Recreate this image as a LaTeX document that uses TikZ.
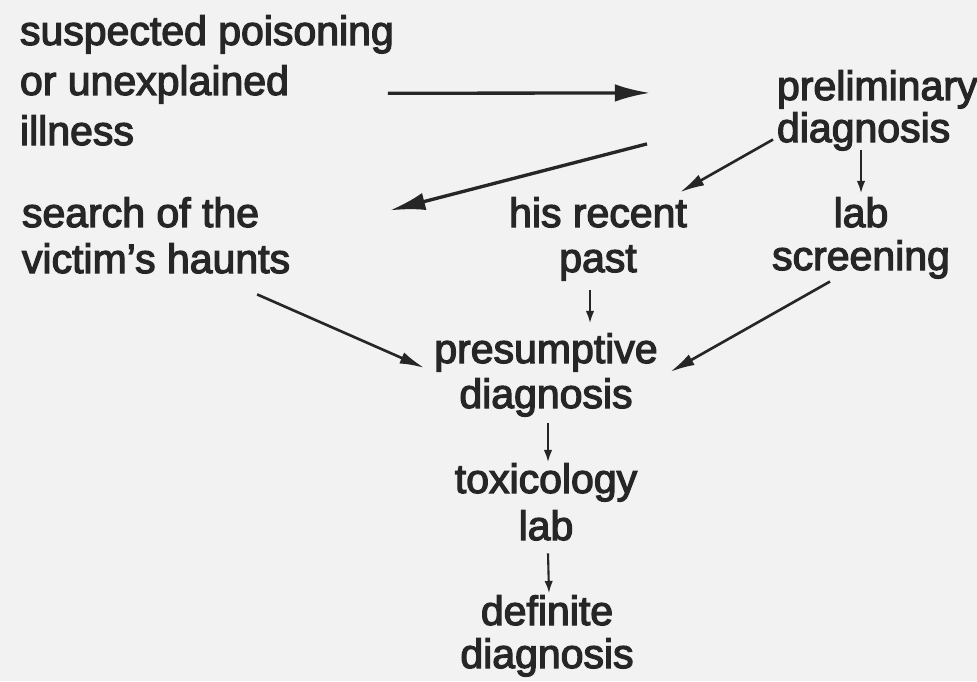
\documentclass[tikz,border=0pt]{standalone}
\usepackage{fontspec}
\setmainfont{Liberation Sans}
\newfontfamily\heavy{Liberation Sans}[FakeBold=3]
\usetikzlibrary{arrows.meta,calc}
\definecolor{paper}{HTML}{F2F2F2}
\definecolor{ink}{HTML}{262626}
\begin{document}
\begin{tikzpicture}[x=0.01cm,y=-0.01cm,
  lbl/.style={inner sep=0pt, outer sep=0pt, text=ink, anchor=base,
    font=\heavy\fontsize{11.66pt}{#1}\selectfont},
  big/.style={draw=ink, line width=0.95pt, -{Latex[length=10pt,width=5pt]}},
  mid/.style={draw=ink, line width=0.75pt, -{Latex[length=7pt,width=3.4pt]}},
  small/.style={draw=ink, line width=0.6pt, -{Latex[length=3.5pt,width=2.4pt]}}]
\fill[paper] (0,0) rectangle (977,681);
\useasboundingbox (0,0) rectangle (977,681);

\node[lbl=14.23pt, anchor=base west, align=left] (start) at (20,145) {suspected poisoning\\or unexplained\\illness};
\node[lbl=11.95pt, anchor=base west, align=left] (prelim) at (777,142) {preliminary\\diagnosis};
\node[lbl=13.09pt, anchor=base west, align=left] (search) at (22,273) {search of the\\victim’s haunts};
\node[lbl=12.8pt, align=center] (recent) at (598,272) {his recent\\past};
\node[lbl=12.23pt, align=center] (labscr) at (861,270) {lab\\screening};
\node[lbl=12.8pt, align=center] (presump) at (546,408) {presumptive\\diagnosis};
\node[lbl=13.37pt, align=center] (tox) at (546,540) {toxicology\\lab};
\node[lbl=12.23pt, align=center] (defi) at (547,668) {definite\\diagnosis};

\draw[big] ($(start.east)+(-6,13)$) -- ($(prelim.west)+(-127,-17.5)$);
\draw[big] ($(prelim.west)+(-130,33.5)$) -- ($(search.east)+(100,-25)$);
\draw[mid] ($(prelim.south west)+(-4,-11)$) -- ($(recent.north east)+(-7,-5)$);
\draw[small] ($(prelim.south -| labscr.north)+(0,-1)$) -- ($(labscr.north)+(0,-4)$);
\draw[mid] ($(labscr.south)+(-31,3)$) -- ($(presump.east)+(12.5,-3)$);
\draw[mid] ($(search.south east)+(-33,21)$) -- ($(presump.west)+(-10,-7)$);
\draw[small] ($(recent.south)+(-8,9)$) -- ($(presump.north)+(44,-10)$);
\draw[small] ($(presump.south)+(2,6)$) -- ($(tox.north)+(2,-1)$);
\draw[small] ($(tox.south)+(2,13)$) -- ($(defi.north)+(2,-2)$);
\end{tikzpicture}
\end{document}
